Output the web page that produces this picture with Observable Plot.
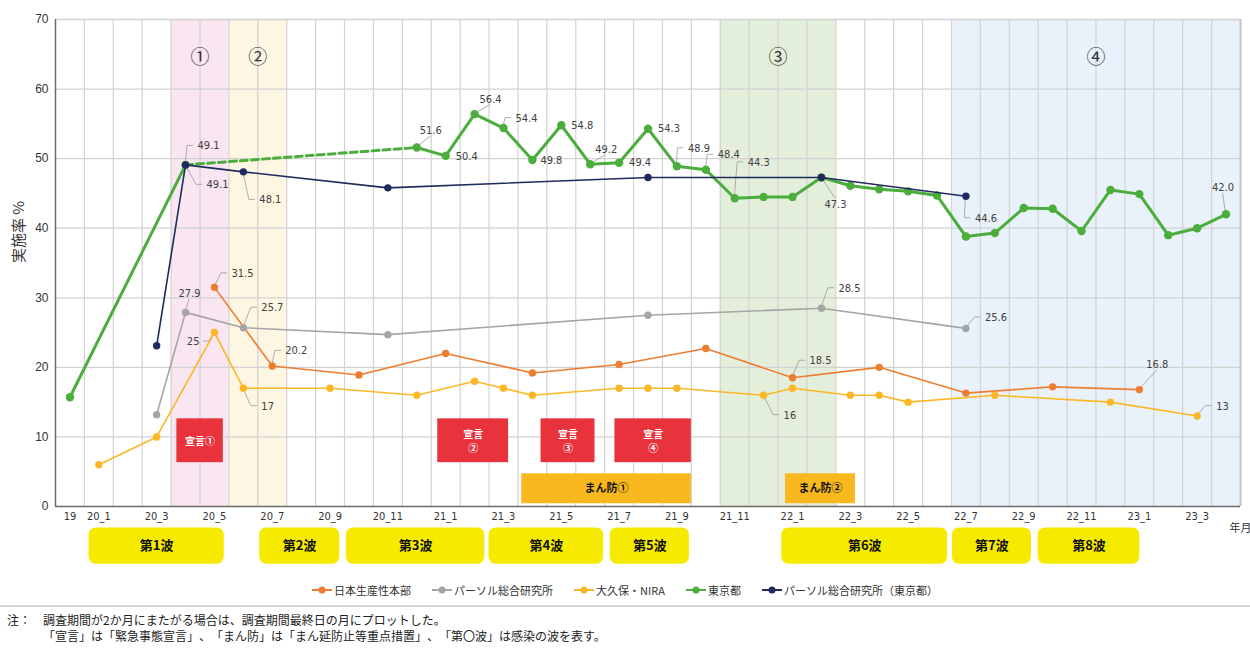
<!DOCTYPE html>
<html lang="ja"><head><meta charset="utf-8">
<script src="https://cdn.jsdelivr.net/npm/d3@7"></script>
<script src="https://cdn.jsdelivr.net/npm/@observablehq/plot@0.6"></script>
<style>
html,body{margin:0;padding:0;background:#fff;}
#wrap{position:relative;width:1250px;height:659px;font-family:"Noto Sans CJK JP","Noto Sans",sans-serif;color:#222;overflow:hidden;text-spacing-trim:space-all;}
#chart{position:absolute;left:0;top:0;}
#legend{position:absolute;left:0;top:582px;width:1250px;height:16px;display:flex;justify-content:center;align-items:center;gap:21px;font-size:11px;color:#333;}
.item{display:flex;align-items:center;gap:2px;white-space:nowrap;}
#rule{position:absolute;left:0;top:605px;width:1250px;height:2px;background:#d4d4d4;}
.note{position:absolute;font-size:12px;line-height:15px;color:#222;white-space:nowrap;text-spacing-trim:space-all;}
</style></head>
<body>
<div id="wrap">
  <div id="chart"></div>
  <div id="legend"></div>
  <div id="rule"></div>
  <div class="note" id="noteHead" style="left:7px;top:612px"></div>
  <div class="note" id="note1" style="left:43px;top:612px"></div>
  <div class="note" id="note2" style="left:43px;top:628px"></div>
</div>
<script>
// ---------- categories / ticks ----------
const months = ["19",
  "20_1","20_2","20_3","20_4","20_5","20_6","20_7","20_8","20_9","20_10","20_11","20_12",
  "21_1","21_2","21_3","21_4","21_5","21_6","21_7","21_8","21_9","21_10","21_11","21_12",
  "22_1","22_2","22_3","22_4","22_5","22_6","22_7","22_8","22_9","22_10","22_11","22_12",
  "23_1","23_2","23_3","23_4"];
const tickLabels = ["19","20_1","20_3","20_5","20_7","20_9","20_11","21_1","21_3","21_5","21_7","21_9","21_11","22_1","22_3","22_5","22_7","22_9","22_11","23_1","23_3"];
const yTicks = [0,10,20,30,40,50,60,70];

// ---------- series ----------
const seriesNames = ["日本生産性本部","パーソル総合研究所","大久保・NIRA","東京都","パーソル総合研究所（東京都）"];
const seisan = [["20_5",31.5],["20_7",20.2],["20_10",18.9],["21_1",22.0],["21_4",19.2],["21_7",20.4],["21_10",22.7],["22_1",18.5],["22_4",20.0],["22_7",16.3],["22_10",17.2],["23_1",16.8]];
const persol = [["20_3",13.2],["20_4",27.9],["20_6",25.7],["20_11",24.7],["21_8",27.5],["22_2",28.5],["22_7",25.6]];
const okubo = [["20_1",6],["20_3",10],["20_5",25],["20_6",17],["20_9",17],["20_12",16],["21_2",18],["21_3",17],["21_4",16],["21_7",17],["21_8",17],["21_9",17],["21_12",16],["22_1",17],["22_3",16],["22_4",16],["22_5",15],["22_8",16],["22_12",15],["23_3",13]];
const tokyo = [["19",15.7],["20_4",49.1],["20_12",51.6],["21_1",50.4],["21_2",56.4],["21_3",54.4],["21_4",49.8],["21_5",54.8],["21_6",49.2],["21_7",49.4],["21_8",54.3],["21_9",48.9],["21_10",48.4],["21_11",44.3],["21_12",44.5],["22_1",44.5],["22_2",47.3],["22_3",46.1],["22_4",45.6],["22_5",45.3],["22_6",44.7],["22_7",38.8],["22_8",39.3],["22_9",42.9],["22_10",42.8],["22_11",39.6],["22_12",45.5],["23_1",44.9],["23_2",39.0],["23_3",40.0],["23_4",42.0]];
const persolTokyo = [["20_3",23.1],["20_4",49.1],["20_6",48.1],["20_11",45.8],["21_8",47.3],["22_2",47.3],["22_7",44.6]];
const tokyoDashedGap = ["20_4","20_12"];   // survey gap drawn dashed

// ---------- periods ----------
const bands = [{label:"①",start:"20_4",end:"20_5"},{label:"②",start:"20_6",end:"20_7"},{label:"③",start:"21_11",end:"22_2"},{label:"④",start:"22_7",end:"23_4"}];
const sengen = [{label:"宣言①",start:"2020-04-07",end:"2020-05-25"},{label:"宣言\n②",start:"2021-01-08",end:"2021-03-21"},{label:"宣言\n③",start:"2021-04-25",end:"2021-06-20"},{label:"宣言\n④",start:"2021-07-12",end:"2021-09-30"}];
const manbo = [{label:"まん防①",start:"2021-04-05",end:"2021-09-30"},{label:"まん防②",start:"2022-01-09",end:"2022-03-21"}];
const waves = [{label:"第1波",start:"2020-01-06",end:"2020-05-26"},{label:"第2波",start:"2020-07-03",end:"2020-09-25"},{label:"第3波",start:"2020-10-03",end:"2021-02-24"},{label:"第4波",start:"2021-03-01",end:"2021-06-29"},{label:"第5波",start:"2021-07-07",end:"2021-09-28"},{label:"第6波",start:"2022-01-05",end:"2022-06-26"},{label:"第7波",start:"2022-07-02",end:"2022-09-23"},{label:"第8波",start:"2022-10-01",end:"2023-01-16"}];
const notes = ["注：","調査期間が2か月にまたがる場合は、調査期間最終日の月にプロットした。","「宣言」は「緊急事態宣言」、「まん防」は「まん延防止等重点措置」、「第〇波」は感染の波を表す。"];

// ---------- styles ----------
const colors = {seisan:"#ed7d31", persol:"#a5a5a5", okubo:"#fbb726", tokyo:"#4aad3c", persolTokyo:"#1f2b5e"};
const bandFill = ["#f9e6f0","#fdf6e3","#e3efda","#e9f2fa"];
const numFont = "'Liberation Sans Narrow','DejaVu Sans Condensed','Liberation Sans',sans-serif";

// label placement (style): which points carry a value label and where
const labelSpecs = [
 {s:"persolTokyo", m:"20_4", dx:12, dy:-19, a:"start", l:"elbow"},
 {s:"tokyo", m:"20_4", dx:21, dy:20, a:"start", l:"elbow"},
 {s:"persolTokyo", m:"20_6", dx:16, dy:28, a:"start", l:"elbow"},
 {s:"tokyo", m:"20_12", dx:14, dy:-17, a:"middle", l:"direct"},
 {s:"tokyo", m:"21_1", dx:10, dy:1, a:"start"},
 {s:"tokyo", m:"21_2", dx:16, dy:-15, a:"middle", l:"direct"},
 {s:"tokyo", m:"21_3", dx:12, dy:-10, a:"start", l:"elbow"},
 {s:"tokyo", m:"21_4", dx:8, dy:0, a:"start"},
 {s:"tokyo", m:"21_5", dx:10, dy:0, a:"start"},
 {s:"tokyo", m:"21_6", dx:16, dy:-15, a:"middle", l:"direct"},
 {s:"tokyo", m:"21_7", dx:10, dy:0, a:"start"},
 {s:"tokyo", m:"21_8", dx:10, dy:0, a:"start"},
 {s:"tokyo", m:"21_9", dx:11, dy:-18, a:"start", l:"elbow"},
 {s:"tokyo", m:"21_10", dx:12, dy:-15, a:"start", l:"elbow"},
 {s:"tokyo", m:"21_11", dx:13, dy:-36, a:"start", l:"elbow"},
 {s:"persolTokyo", m:"22_2", dx:14, dy:27, a:"middle", l:"direct"},
 {s:"persolTokyo", m:"22_7", dx:9, dy:22, a:"start", l:"elbow"},
 {s:"tokyo", m:"23_4", dx:-3, dy:-27, a:"middle", l:"direct"},
 {s:"persol", m:"20_4", dx:4, dy:-19, a:"middle", l:"direct"},
 {s:"persol", m:"20_6", dx:18, dy:-20, a:"start", l:"elbow"},
 {s:"persol", m:"22_2", dx:17, dy:-20, a:"start", l:"elbow"},
 {s:"persol", m:"22_7", dx:19, dy:-11, a:"start", l:"elbow"},
 {s:"seisan", m:"20_5", dx:17, dy:-14, a:"start", l:"elbow"},
 {s:"seisan", m:"20_7", dx:13, dy:-15, a:"start", l:"elbow"},
 {s:"seisan", m:"22_1", dx:17, dy:-17, a:"start", l:"elbow"},
 {s:"seisan", m:"23_1", dx:18, dy:-25, a:"middle", l:"direct"},
 {s:"okubo", m:"20_5", dx:-15, dy:9, a:"end", l:"elbowLeft"},
 {s:"okubo", m:"20_6", dx:18, dy:18, a:"start", l:"elbow"},
 {s:"okubo", m:"21_12", dx:20, dy:20, a:"start", l:"elbow"},
 {s:"okubo", m:"23_3", dx:19, dy:-10, a:"start", l:"elbow"}
];

// ---------- helpers ----------
const seriesData = {seisan, persol, okubo, tokyo, persolTokyo};
const mx = m => months.indexOf(m) + 0.5;
function datePos(s, isEnd) {
  const [Y, M, D] = s.split("-").map(Number);
  const dim = new Date(Y, M, 0).getDate();
  return months.indexOf(`${Y - 2000}_${M}`) + (isEnd ? D : D - 1) / dim;
}
const toRows = (arr, key) => arr.map(([m, v]) => ({m, v, key, x: mx(m)}));
const rows = Object.fromEntries(Object.entries(seriesData).map(([k, a]) => [k, toRows(a, k)]));
const valueOf = (k, m) => seriesData[k].find(d => d[0] === m)[1];
const fmt = (k, v) => k === "okubo" ? String(v) : v.toFixed(1);

// tokyo solid pieces: before and after the dashed gap
const gapA = months.indexOf(tokyoDashedGap[0]), gapB = months.indexOf(tokyoDashedGap[1]);
const tokyoSolid = rows.tokyo.map(d => ({...d, seg: months.indexOf(d.m) <= gapA ? 0 : 1}))
  .filter(d => months.indexOf(d.m) <= gapA || months.indexOf(d.m) >= gapB);
const tokyoDash = rows.tokyo.filter(d => tokyoDashedGap.includes(d.m));

function leaderMark(index, scales) {
  const g = d3.create("svg:g").attr("fill", "none").attr("stroke", "#9a9a9a").attr("stroke-width", 0.8);
  for (const L of labelSpecs) {
    if (!L.l) continue;
    const px = scales.x(mx(L.m)), py = scales.y(valueOf(L.s, L.m));
    const lx = px + L.dx, ly = py + L.dy;
    let pts;
    if (L.l === "elbow") pts = [[px, py], [lx - 10, ly], [lx - 4, ly]];
    else if (L.l === "elbowLeft") pts = [[px, py], [lx + 10, ly], [lx + 4, ly]];
    else pts = [[px, py], [lx, ly + (L.dy > 0 ? -6 : 6)]];
    g.append("path").attr("d", d3.line()(pts));
  }
  return g.node();
}

const seriesOrder = ["seisan", "persol", "okubo", "tokyo", "persolTokyo"];
const lineMarks = [];
for (const k of seriesOrder) {
  const sw = k === "tokyo" ? 3 : 1.6, r = k === "tokyo" ? 4.2 : 3.7;
  if (k === "tokyo") {
    lineMarks.push(Plot.line(tokyoSolid, {x: "x", y: "v", z: "seg", stroke: colors.tokyo, strokeWidth: sw}));
    lineMarks.push(Plot.line(tokyoDash, {x: "x", y: "v", stroke: colors.tokyo, strokeWidth: sw, strokeDasharray: "7,4"}));
  } else {
    lineMarks.push(Plot.line(rows[k], {x: "x", y: "v", stroke: colors[k], strokeWidth: sw}));
  }
  lineMarks.push(Plot.dot(rows[k], {x: "x", y: "v", r, fill: colors[k], stroke: "none"}));
}

const labelMarks = labelSpecs.map(L => Plot.text([L], {
  x: d => mx(d.m), y: d => valueOf(d.s, d.m), text: d => fmt(d.s, valueOf(d.s, d.m)),
  dx: L.dx, dy: L.dy, textAnchor: L.a, fontSize: 11, fill: "#404040", fontFamily: numFont
}));

const chart = Plot.plot({
  width: 1250, height: 585,
  marginLeft: 55, marginRight: 10, marginTop: 19, marginBottom: 79,
  x: {type: "linear", domain: [0, months.length], axis: null},
  y: {type: "linear", domain: [0, 70], axis: null},
  style: {fontFamily: "'Noto Sans CJK JP',sans-serif", background: "transparent", overflow: "visible"},
  marks: [
    ...bands.map((b, i) => Plot.rect([b], {x1: d => months.indexOf(d.start), x2: d => months.indexOf(d.end) + 1, y1: 0, y2: 70, fill: bandFill[i]})),
    Plot.ruleX(d3.range(1, months.length), {stroke: "#d2d2d2", strokeWidth: 1.2}),
    Plot.ruleY(yTicks.slice(1), {stroke: "#d2d2d2", strokeWidth: 1.3}),
    Plot.ruleX([months.length], {stroke: "#c4c4c4", strokeWidth: 2}),
    Plot.rect(sengen, {x1: d => datePos(d.start), x2: d => datePos(d.end, true), y1: 6.3, y2: 12.6, fill: "#e8323c"}),
    Plot.text(sengen, {x: d => (datePos(d.start) + datePos(d.end, true)) / 2, y: 9.45, text: "label", fill: "white", fontWeight: "bold", fontSize: 10, lineHeight: 1.35}),
    Plot.rect(manbo, {x1: d => datePos(d.start), x2: d => datePos(d.end, true), y1: 0.4, y2: 4.7, fill: "#f8b81e"}),
    Plot.text(manbo, {x: d => (datePos(d.start) + datePos(d.end, true)) / 2, y: 2.55, text: "label", fill: "#111", fontWeight: "bold", fontSize: 11}),
    Plot.rect(waves, {x1: d => datePos(d.start), x2: d => datePos(d.end, true), y1: -3.1, y2: -8.3, fill: "#f6ea00", rx: 7}),
    Plot.text(waves, {x: d => (datePos(d.start) + datePos(d.end, true)) / 2, y: -5.7, text: "label", fill: "#111", fontWeight: "bold", fontSize: 13, letterSpacing: "2px"}),
    Plot.text(bands, {x: d => (months.indexOf(d.start) + months.indexOf(d.end) + 1) / 2, y: 64.5, text: "label", fontSize: 19, fill: "#333"}),
    leaderMark,
    ...lineMarks,
    ...labelMarks,
    Plot.ruleX([0], {stroke: "#6b6b6b", strokeWidth: 1.5}),
    Plot.ruleY([0], {stroke: "#6b6b6b", strokeWidth: 1.5}),
    Plot.axisY(yTicks, {tickSize: 0, tickPadding: 7, fontSize: 12, label: null, fontFamily: "'Liberation Sans',sans-serif", fill: "#333"}),
    Plot.axisX(tickLabels.map(mx), {tickSize: 0, tickPadding: 6, fontSize: 11, label: null, tickFormat: d => months[Math.floor(d)], fontFamily: numFont, fill: "#333"}),
    Plot.text(["実施率 %"], {frameAnchor: "left", text: d => d, rotate: -90, dx: -36, fontSize: 15, fill: "#333"}),
    Plot.text(["年月"], {x: months.length, y: -3.2, text: d => d, fontSize: 11, fill: "#333"})
  ]
});
document.getElementById("chart").appendChild(chart);

// legend
const legend = d3.select("#legend");
seriesOrder.forEach((k, i) => {
  const it = legend.append("div").attr("class", "item");
  const s = it.append("svg").attr("width", 20).attr("height", 10);
  s.append("line").attr("x1", 0).attr("x2", 20).attr("y1", 5).attr("y2", 5).attr("stroke", colors[k]).attr("stroke-width", 2);
  s.append("circle").attr("cx", 10).attr("cy", 5).attr("r", 3.5).attr("fill", colors[k]);
  it.append("span").text(seriesNames[i]);
});
document.getElementById("noteHead").textContent = notes[0];
document.getElementById("note1").textContent = notes[1];
document.getElementById("note2").textContent = notes[2];
</script>
</body></html>
